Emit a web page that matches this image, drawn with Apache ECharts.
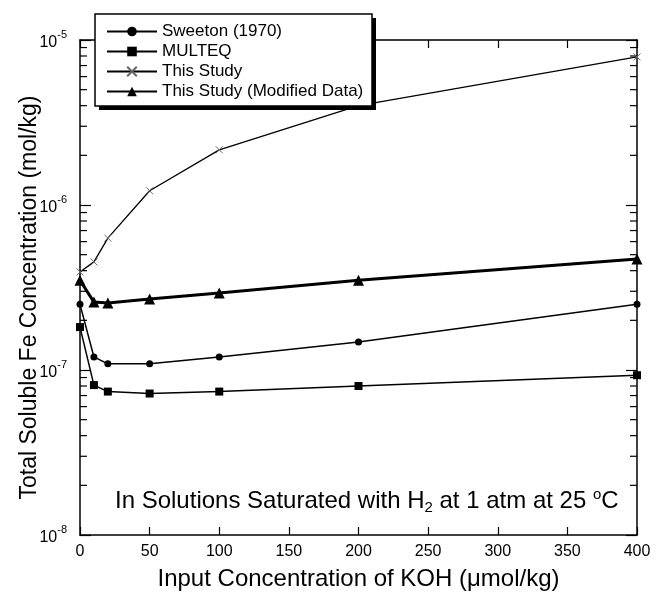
<!DOCTYPE html>
<html><head><meta charset="utf-8">
<script src="https://cdn.jsdelivr.net/npm/echarts@6/dist/echarts.min.js"></script>
<style>html,body{margin:0;padding:0;background:#fff}#c{width:656px;height:592px}</style>
</head><body><div id="c"></div>
<script>
const xValues = [0, 10, 20, 50, 100, 200, 400];
const sweeton = [2.5e-7, 1.2e-7, 1.09e-7, 1.09e-7, 1.2e-7, 1.48e-7, 2.5e-7];
const multeq = [1.82e-7, 8.1e-8, 7.4e-8, 7.2e-8, 7.4e-8, 8.0e-8, 9.3e-8];
const thisStudy = [3.93e-7, 4.52e-7, 6.3e-7, 1.22e-6, 2.16e-6, 4.0e-6, 7.9e-6];
const modified = [3.5e-7, 2.58e-7, 2.55e-7, 2.69e-7, 2.93e-7, 3.5e-7, 4.71e-7];
const seriesNames = ['Sweeton (1970)', 'MULTEQ', 'This Study', 'This Study (Modified Data)'];
const yDecades = [-8, -7, -6, -5];
const minorMultipliers = [2, 3, 4, 5, 6, 7, 8, 9];

const FONT = '"Liberation Sans", Arial, Helvetica, sans-serif';
const minorTicks = [];
yDecades.slice(0, -1).forEach(e => minorMultipliers.forEach(m => minorTicks.push([0, m * Math.pow(10, e)])));

function pairs(ys) { return xValues.map((x, i) => [x, ys[i]]); }
function yLabel(v) {
  const e = Math.round(Math.log10(v));
  return '{b|10}{s|' + e + '}';
}
const crossPath = 'path://M0,0L10,10M10,0L0,10';

const chart = echarts.init(document.getElementById('c'));
chart.setOption({
  animation: false,
  grid: { left: 80, right: 19, top: 40, bottom: 57, containLabel: false, outerBoundsMode: 'none' },
  graphic: [
    { type: 'rect', z: 100, shape: { x: 99, y: 18, width: 277, height: 92 }, style: { fill: '#000' } },
    { type: 'rect', z: 101, shape: { x: 95, y: 14, width: 277, height: 92 }, style: { fill: '#fff', stroke: '#000', lineWidth: 1.5 } }
  ],
  title: {
    left: 115, top: 487, padding: 0,
    text: '{t|In Solutions Saturated with H}{sub|2}{t| at 1 atm at 25 }{sup|o}{t|C}',
    textStyle: {
      rich: {
        t: { fontFamily: FONT, fontSize: 24, fontWeight: 'normal', color: '#000', lineHeight: 28, verticalAlign: 'middle' },
        sub: { fontFamily: FONT, fontSize: 15, fontWeight: 'normal', color: '#000', lineHeight: 28, verticalAlign: 'bottom' },
        sup: { fontFamily: FONT, fontSize: 15, fontWeight: 'normal', color: '#000', lineHeight: 10, verticalAlign: 'top' }
      }
    }
  },
  legend: {
    orient: 'vertical', left: 106, top: 23, z: 102,
    itemWidth: 50, itemHeight: 12, itemGap: 3,
    padding: 0,
    textStyle: { fontFamily: FONT, fontSize: 17, color: '#000', lineHeight: 17 },
    data: seriesNames
  },
  xAxis: [{
    type: 'value', min: 0, max: 400, interval: 50,
    name: 'Input Concentration of KOH (\u03bcmol/kg)',
    nameLocation: 'middle', nameGap: 32, nameMoveOverlap: false,
    nameTextStyle: { fontFamily: FONT, fontSize: 24, color: '#000' },
    axisLine: { show: true, lineStyle: { color: '#000', width: 1.5 } },
    axisTick: { show: true, inside: true, length: 8, lineStyle: { color: '#000', width: 1.2 } },
    axisLabel: { fontFamily: FONT, fontSize: 16, color: '#000', margin: 9 },
    splitLine: { show: false }
  }, {
    type: 'value', min: 0, max: 400, interval: 50, position: 'top',
    axisLine: { show: true, onZero: false, lineStyle: { color: '#000', width: 1.5 } },
    axisTick: { show: true, inside: true, length: 8, lineStyle: { color: '#000', width: 1.2 } },
    axisLabel: { show: false }, splitLine: { show: false }
  }],
  yAxis: [{
    type: 'log', logBase: 10, min: 1e-8, max: 1e-5,
    name: 'Total Soluble Fe Concentration (mol/kg)',
    nameLocation: 'middle', nameGap: 39, nameMoveOverlap: false,
    nameTextStyle: { fontFamily: FONT, fontSize: 23, color: '#000', padding: [0, 20, 0, 0] },
    axisLine: { show: true, onZero: false, lineStyle: { color: '#000', width: 1.5 } },
    axisTick: { show: true, inside: true, length: 11, lineStyle: { color: '#000', width: 1.2 } },
    axisLabel: {
      margin: 13,
      formatter: yLabel,
      rich: {
        b: { fontFamily: FONT, fontSize: 16, color: '#000', lineHeight: 22, verticalAlign: 'bottom' },
        s: { fontFamily: FONT, fontSize: 11, color: '#000', lineHeight: 11, verticalAlign: 'top' }
      }
    },
    splitLine: { show: false }
  }, {
    type: 'log', logBase: 10, min: 1e-8, max: 1e-5, position: 'right',
    axisLine: { show: true, onZero: false, lineStyle: { color: '#000', width: 1.5 } },
    axisTick: { show: true, inside: true, length: 11, lineStyle: { color: '#000', width: 1.2 } },
    axisLabel: { show: false }, splitLine: { show: false }
  }],
  series: [
    {
      name: seriesNames[0], type: 'line', data: pairs(sweeton),
      symbol: 'circle', symbolSize: 7,
      lineStyle: { color: '#000', width: 1.5 }, itemStyle: { color: '#000' }
    },
    {
      name: seriesNames[1], type: 'line', data: pairs(multeq),
      symbol: 'rect', symbolSize: 8,
      lineStyle: { color: '#000', width: 1.5 }, itemStyle: { color: '#000' }
    },
    {
      name: seriesNames[2], type: 'line', data: pairs(thisStudy),
      symbol: crossPath, symbolSize: 7,
      lineStyle: { color: '#000', width: 1.3 },
      itemStyle: { color: 'transparent', borderColor: '#666', borderWidth: 1 }
    },
    {
      name: seriesNames[3], type: 'line', data: pairs(modified),
      symbol: 'triangle', symbolSize: 11,
      lineStyle: { color: '#000', width: 3 }, itemStyle: { color: '#000' }
    },
    {
      type: 'custom', data: minorTicks, encode: { x: 0, y: 1 }, silent: true, z: 3,
      renderItem: function (params, api) {
        const y = api.coord([0, api.value(1)])[1];
        const cs = params.coordSys;
        return {
          type: 'group', children: [
            { type: 'line', shape: { x1: cs.x, y1: y, x2: cs.x + 7, y2: y }, style: { stroke: '#000', lineWidth: 1.2 } },
            { type: 'line', shape: { x1: cs.x + cs.width, y1: y, x2: cs.x + cs.width - 7, y2: y }, style: { stroke: '#000', lineWidth: 1.2 } }
          ]
        };
      }
    }
  ]
});
</script></body></html>
